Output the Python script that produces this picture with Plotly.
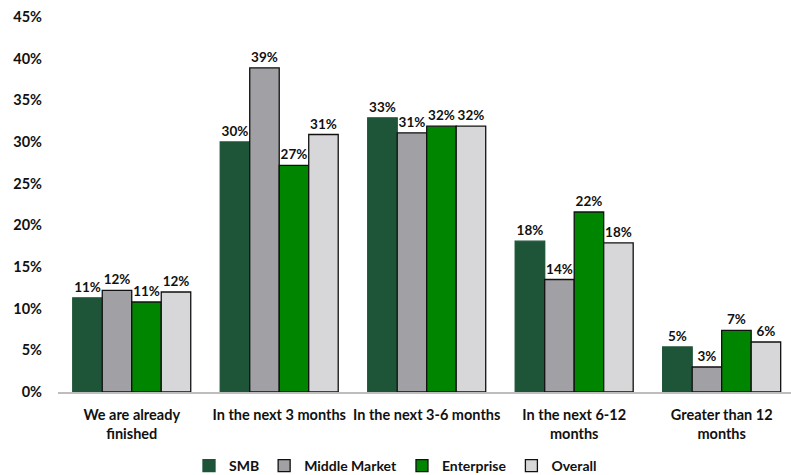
import plotly.graph_objects as go

categories = ["We are already<br>finished", "In the next 3 months", "In the next 3-6 months",
              "In the next 6-12<br>months", "Greater than 12<br>months"]
smb = [11.3, 30.0, 32.9, 18.1, 5.4]
middle_market = [12.2, 38.9, 31.1, 13.5, 3.0]
enterprise = [10.8, 27.2, 31.9, 21.6, 7.4]
overall = [12.0, 30.9, 31.9, 17.9, 6.0]

series = [
    ("SMB", smb, "#1E5438", "#1E5438"),
    ("Middle Market", middle_market, "#A0A0A5", "#111111"),
    ("Enterprise", enterprise, "#008500", "#111111"),
    ("Overall", overall, "#D7D7D9", "#111111"),
]

FONT = "Lato, Calibri, Carlito, sans-serif"

fig = go.Figure()
for name, vals, fill, edge in series:
    fig.add_trace(go.Bar(
        name=name, x=categories, y=vals,
        marker=dict(color=fill, line=dict(color=edge, width=1.3)),
        text=[f"{v:.0f}%" for v in vals],
        textposition="outside",
        constraintext="none",
        cliponaxis=False,
        textfont=dict(family=FONT, size=13.5, color="#111111", weight="bold"),
    ))

fig.update_layout(
    width=791, height=475,
    margin=dict(l=58, r=0, t=17, b=83, autoexpand=False),
    paper_bgcolor="white", plot_bgcolor="white",
    barmode="group", bargap=0.2, bargroupgap=0,
    font=dict(family=FONT, size=14, color="#111111", weight="bold"),
    showlegend=True,
    legend=dict(orientation="h", x=0.5, xref="container", xanchor="center",
                y=0.019, yref="container", yanchor="middle",
                font=dict(family=FONT, size=14, color="#111111", weight="bold"),
                itemwidth=30, traceorder="normal"),
)
fig.update_xaxes(
    range=[-0.5, 4.47], showline=True, linecolor="#BDBDBD", linewidth=1.5,
    showgrid=False, ticks="", automargin=False, ticklabelstandoff=9,
    tickfont=dict(family=FONT, size=14.5, weight="bold"),
)
fig.update_yaxes(
    range=[0, 45], dtick=5, ticksuffix="%", showgrid=False, zeroline=False,
    showline=False, ticks="", ticklabelstandoff=15, automargin=False,
    tickfont=dict(family=FONT, size=14.5, weight="bold"),
)

fig.write_html("out.html")
